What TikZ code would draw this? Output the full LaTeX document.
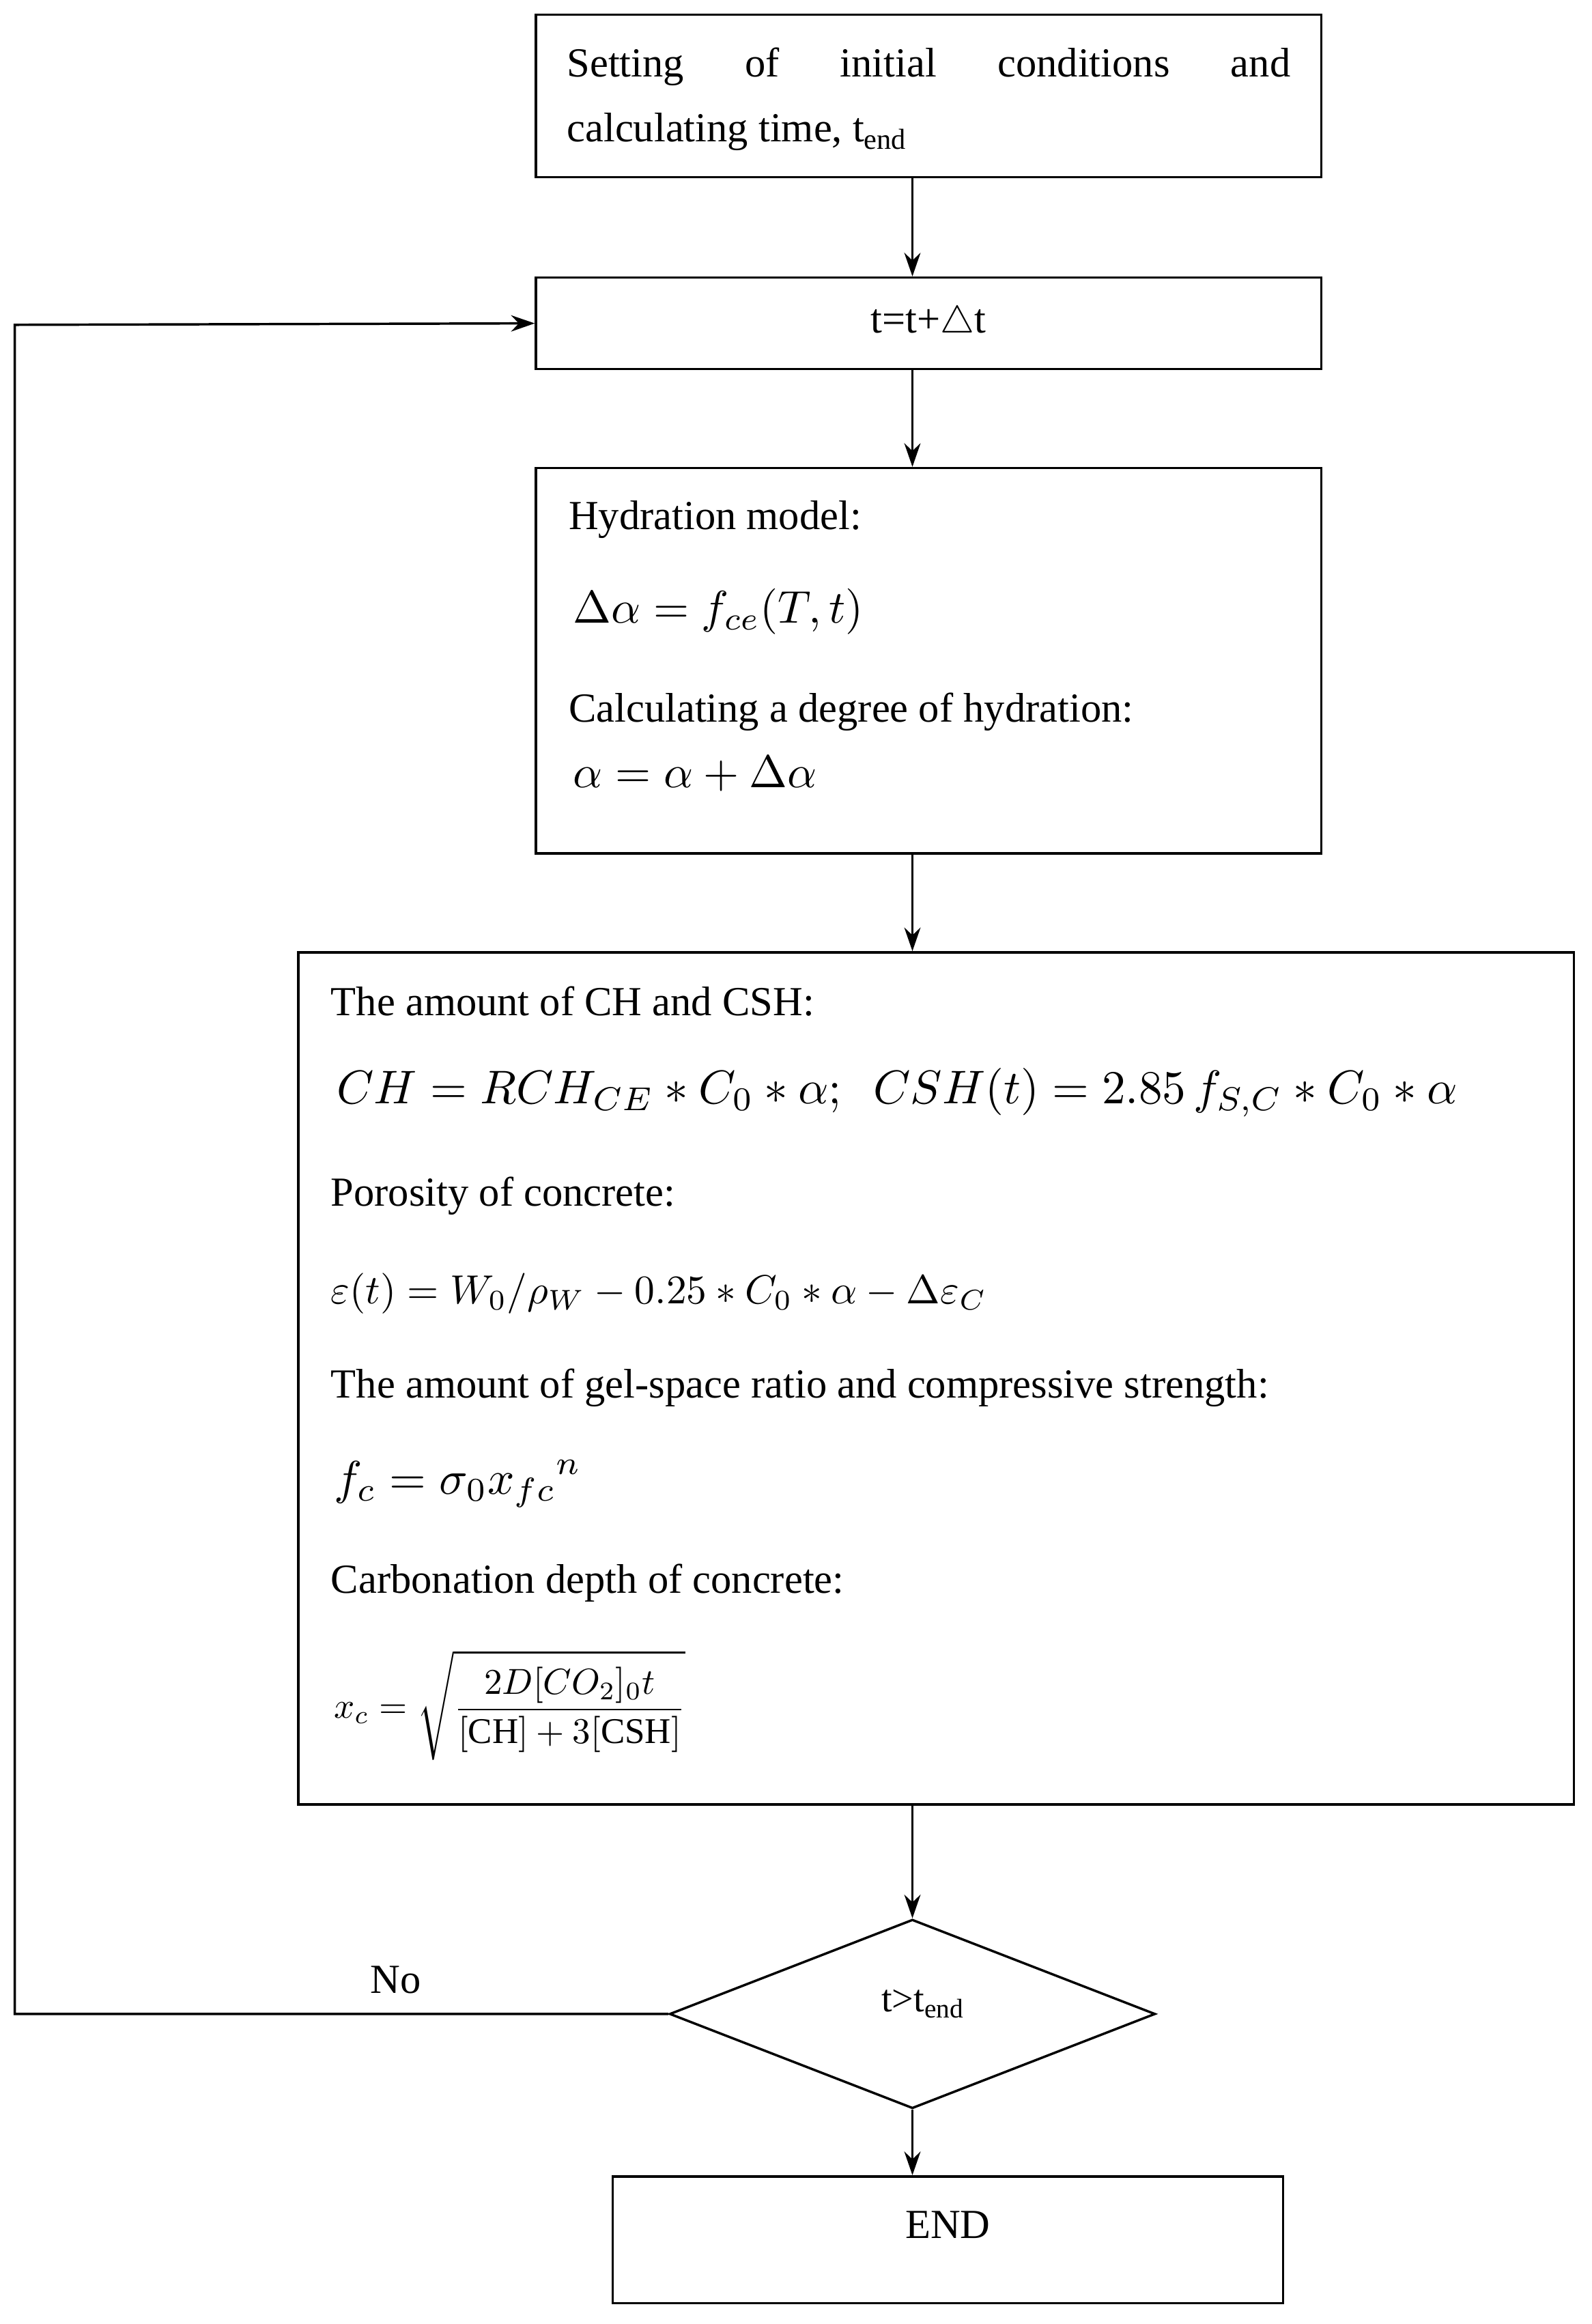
\documentclass[tikz,border=0pt]{standalone}
\usepackage{amsmath}
\usepackage{graphicx}
\usepackage{fontspec}
\setmainfont{Liberation Serif}
\usetikzlibrary{shapes.geometric,arrows.meta}
\newcommand{\bigmath}[2]{\scalebox{#1}{\fontsize{10}{12}\selectfont$\displaystyle #2$}}
\begin{document}
\begin{tikzpicture}[x=1pt,y=-1pt,
  box/.style={draw,line width=1.6pt,inner sep=0pt},
  txt/.style={anchor=west,inner sep=0pt,font=\fontsize{28}{34}\selectfont},
  arr/.style={line width=1.6pt,-{Stealth[length=16pt,width=11pt]}}]
\useasboundingbox (0,0) rectangle (1078,1574);
\node[box,minimum width=532pt,minimum height=110pt] (b1) at (629,65) {};
\node[inner sep=0pt,text width=490pt,align=justify,font=\fontsize{28}{44}\selectfont] (t1) at (629,67)
 {Setting of initial conditions and\linebreak calculating time, t\textsubscript{end}};
\node[box,minimum width=532pt,minimum height=62pt] (b2) at (629,219) {};
\node[inner sep=0pt,font=\fontsize{28}{34}\selectfont] (t2) at (629,219) {t=t+\bigmath{2.6}{\triangle}t};
\node[box,minimum width=532pt,minimum height=261pt] (b3) at (629,447.5) {};
\node[txt] (h1) at (385,352) {Hydration model:};
\node[txt] (h2) at (388,414) {\bigmath{3.1}{\Delta\alpha = f_{ce}(T,t)}};
\node[txt] (h3) at (385,482) {Calculating a degree of hydration:};
\node[txt] (h4) at (388,524) {\bigmath{3.1}{\alpha=\alpha+\Delta\alpha}};
\node[box,minimum width=864pt,minimum height=577pt] (b4) at (634,933.5) {};
\node[txt] (c1) at (224,678) {The amount of CH and CSH:};
\node[txt] (c2) at (228,740) {\bigmath{3.2}{CH=RCH_{CE}*C_0*\alpha;\ \ CSH(t)=2.85\,f_{S,C}*C_0*\alpha}};
\node[txt] (c3) at (224,810) {Porosity of concrete:};
\node[txt] (c4) at (224,876) {\bigmath{2.75}{\varepsilon(t)=W_0/\rho_W-0.25*C_0*\alpha-\Delta\varepsilon_C}};
\node[txt] (c5) at (224,940) {The amount of gel-space ratio and compressive strength:};
\node[txt] (c6) at (226,1005) {\bigmath{3.2}{f_c=\sigma_0 {x_{fc}}^n}};
\node[txt] (c7) at (224,1072) {Carbonation depth of concrete:};
\node[txt] (c8) at (226,1155) {\bigmath{2.45}{x_c=\sqrt{\frac{2D[CO_2]_0t}{[\mathrm{CH}]+3[\mathrm{CSH}]}}}};
\node[draw,diamond,aspect=2.57,line width=1.6pt,minimum width=329pt,minimum height=128pt,inner sep=0pt] (d) at (618,1364) {};
\node[inner sep=0pt,font=\fontsize{26}{32}\selectfont] (dt) at (625,1357) {t>t\textsubscript{end}};
\node[box,minimum width=454pt,minimum height=86pt] (b5) at (642,1517) {};
\node[inner sep=0pt,font=\fontsize{28}{34}\selectfont] (t5) at (642,1507) {END};
\coordinate (l1) at (10,1364);
\coordinate (l2) at (10,220);
\node[inner sep=0pt,font=\fontsize{28}{34}\selectfont] (no) at (268,1341) {No};
\draw[arr] (b1.south -| 618,0) -- (b2.north -| 618,0);
\draw[arr] (b2.south -| 618,0) -- (b3.north -| 618,0);
\draw[arr] (b3.south -| 618,0) -- (b4.north -| 618,0);
\draw[arr] (b4.south -| 618,0) -- (d.north);
\draw[arr] (d.south) -- (b5.north -| 618,0);
\draw[arr] (d.west) -- (l1) -- (l2) -- (b2.west);
\end{tikzpicture}
\end{document}
